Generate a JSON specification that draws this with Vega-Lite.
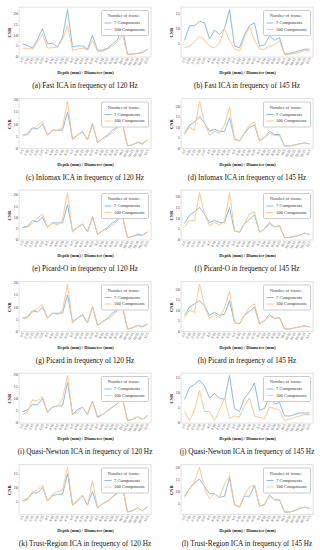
{
"$schema":"https://vega.github.io/schema/vega-lite/v6.json",
"padding":{"left":5,"top":6,"right":2,"bottom":0},
"background":"white",
"bounds":"flush",
"datasets":{"d":[
{"p":"a","x":"2/5","b":6,"o":4},{"p":"a","x":"2/10","b":5.2,"o":3.8},{"p":"a","x":"2/15","b":4,"o":3.5},{"p":"a","x":"2/20","b":8,"o":7},{"p":"a","x":"2/25","b":13,"o":10.5},{"p":"a","x":"4/5","b":6,"o":4},{"p":"a","x":"4/10","b":6.2,"o":4.2},{"p":"a","x":"4/15","b":4.5,"o":4.5},{"p":"a","x":"4/20","b":9,"o":8},{"p":"a","x":"4/25","b":22,"o":14.5},{"p":"a","x":"6/5","b":4.5,"o":3},{"p":"a","x":"6/10","b":5,"o":3.5},{"p":"a","x":"6/15","b":5,"o":4},{"p":"a","x":"6/20","b":3.5,"o":3},{"p":"a","x":"6/25","b":10,"o":7.5},{"p":"a","x":"8/5","b":3,"o":2.5},{"p":"a","x":"8/10","b":3,"o":2.5},{"p":"a","x":"8/15","b":4,"o":3.5},{"p":"a","x":"8/20","b":6,"o":5},{"p":"a","x":"8/25","b":8,"o":7},{"p":"a","x":"10/5","b":13,"o":10},{"p":"a","x":"10/10","b":1,"o":1},{"p":"a","x":"10/15","b":1.2,"o":1.2},{"p":"a","x":"10/20","b":1.5,"o":1.5},{"p":"a","x":"10/25","b":2,"o":1.8},{"p":"a","x":"12/5","b":3.5,"o":3.5},
{"p":"b","x":"2/5","b":6,"o":3.5},{"p":"b","x":"2/10","b":11,"o":4},{"p":"b","x":"2/15","b":11,"o":5.5},{"p":"b","x":"2/20","b":12.5,"o":7.5},{"p":"b","x":"2/25","b":12,"o":6},{"p":"b","x":"4/5","b":6.5,"o":4},{"p":"b","x":"4/10","b":9.5,"o":3.5},{"p":"b","x":"4/15","b":8,"o":5},{"p":"b","x":"4/20","b":10,"o":10},{"p":"b","x":"4/25","b":16.5,"o":6},{"p":"b","x":"6/5","b":4,"o":3},{"p":"b","x":"6/10","b":3.5,"o":2.5},{"p":"b","x":"6/15","b":8,"o":7},{"p":"b","x":"6/20","b":11,"o":10.5},{"p":"b","x":"6/25","b":12,"o":6},{"p":"b","x":"8/5","b":4,"o":3},{"p":"b","x":"8/10","b":4.5,"o":3},{"p":"b","x":"8/15","b":7.5,"o":4},{"p":"b","x":"8/20","b":6,"o":4.5},{"p":"b","x":"8/25","b":7,"o":6},{"p":"b","x":"10/5","b":1.5,"o":1.2},{"p":"b","x":"10/10","b":1.5,"o":1.3},{"p":"b","x":"10/15","b":2,"o":1.5},{"p":"b","x":"10/20","b":2.5,"o":2},{"p":"b","x":"10/25","b":3,"o":2.5},{"p":"b","x":"12/5","b":3,"o":2.5},
{"p":"c","x":"2/5","b":5.5,"o":5.5},{"p":"c","x":"2/10","b":6,"o":5.5},{"p":"c","x":"2/15","b":8.5,"o":8},{"p":"c","x":"2/20","b":8,"o":9.5},{"p":"c","x":"2/25","b":10,"o":11},{"p":"c","x":"4/5","b":5.5,"o":5.5},{"p":"c","x":"4/10","b":7.5,"o":7.5},{"p":"c","x":"4/15","b":7.5,"o":7.5},{"p":"c","x":"4/20","b":7.5,"o":8.5},{"p":"c","x":"4/25","b":15,"o":19.5},{"p":"c","x":"6/5","b":4,"o":3.5},{"p":"c","x":"6/10","b":5.5,"o":5.5},{"p":"c","x":"6/15","b":7,"o":7},{"p":"c","x":"6/20","b":3.5,"o":3.5},{"p":"c","x":"6/25","b":10,"o":10.5},{"p":"c","x":"8/5","b":2.5,"o":2.5},{"p":"c","x":"8/10","b":4,"o":4},{"p":"c","x":"8/15","b":5.5,"o":5},{"p":"c","x":"8/20","b":7.5,"o":6.5},{"p":"c","x":"8/25","b":9,"o":8.5},{"p":"c","x":"10/5","b":10,"o":10.5},{"p":"c","x":"10/10","b":1,"o":1},{"p":"c","x":"10/15","b":1.5,"o":1.5},{"p":"c","x":"10/20","b":2.5,"o":2.5},{"p":"c","x":"10/25","b":2,"o":1.8},{"p":"c","x":"12/5","b":3.5,"o":3.5},
{"p":"d","x":"2/5","b":7,"o":6.5},{"p":"d","x":"2/10","b":11,"o":10},{"p":"d","x":"2/15","b":12.5,"o":8.5},{"p":"d","x":"2/20","b":15,"o":22.5},{"p":"d","x":"2/25","b":12,"o":12},{"p":"d","x":"4/5","b":8,"o":6},{"p":"d","x":"4/10","b":9,"o":8},{"p":"d","x":"4/15","b":8,"o":7},{"p":"d","x":"4/20","b":8,"o":11},{"p":"d","x":"4/25","b":14.5,"o":19.5},{"p":"d","x":"6/5","b":4.5,"o":4},{"p":"d","x":"6/10","b":3.5,"o":3.5},{"p":"d","x":"6/15","b":7,"o":7.5},{"p":"d","x":"6/20","b":10,"o":11},{"p":"d","x":"6/25","b":11,"o":12.5},{"p":"d","x":"8/5","b":3.5,"o":3.5},{"p":"d","x":"8/10","b":5,"o":5},{"p":"d","x":"8/15","b":8,"o":7},{"p":"d","x":"8/20","b":6.5,"o":6},{"p":"d","x":"8/25","b":6.5,"o":6},{"p":"d","x":"10/5","b":1,"o":1},{"p":"d","x":"10/10","b":1,"o":1},{"p":"d","x":"10/15","b":1.5,"o":1.5},{"p":"d","x":"10/20","b":2,"o":2},{"p":"d","x":"10/25","b":2.5,"o":2.5},{"p":"d","x":"12/5","b":2,"o":2},
{"p":"e","x":"2/5","b":5.5,"o":5.5},{"p":"e","x":"2/10","b":6,"o":5.5},{"p":"e","x":"2/15","b":8.5,"o":7.5},{"p":"e","x":"2/20","b":8,"o":9.5},{"p":"e","x":"2/25","b":10,"o":11.5},{"p":"e","x":"4/5","b":5.5,"o":5.5},{"p":"e","x":"4/10","b":7.5,"o":7.5},{"p":"e","x":"4/15","b":7.5,"o":6.5},{"p":"e","x":"4/20","b":7.5,"o":9},{"p":"e","x":"4/25","b":15.5,"o":21},{"p":"e","x":"6/5","b":4,"o":3.5},{"p":"e","x":"6/10","b":5.5,"o":5.5},{"p":"e","x":"6/15","b":7,"o":7},{"p":"e","x":"6/20","b":3.5,"o":3.5},{"p":"e","x":"6/25","b":10,"o":10.5},{"p":"e","x":"8/5","b":2.5,"o":2.5},{"p":"e","x":"8/10","b":4,"o":4},{"p":"e","x":"8/15","b":5.5,"o":5},{"p":"e","x":"8/20","b":7.5,"o":6.5},{"p":"e","x":"8/25","b":9,"o":8.5},{"p":"e","x":"10/5","b":10,"o":10.5},{"p":"e","x":"10/10","b":1,"o":1},{"p":"e","x":"10/15","b":1.5,"o":1.5},{"p":"e","x":"10/20","b":2.5,"o":2},{"p":"e","x":"10/25","b":2,"o":2},{"p":"e","x":"12/5","b":3.5,"o":3.5},
{"p":"f","x":"2/5","b":7.5,"o":6},{"p":"f","x":"2/10","b":11.5,"o":9},{"p":"f","x":"2/15","b":13,"o":9},{"p":"f","x":"2/20","b":15,"o":22},{"p":"f","x":"2/25","b":12,"o":12},{"p":"f","x":"4/5","b":8,"o":6.5},{"p":"f","x":"4/10","b":9,"o":8},{"p":"f","x":"4/15","b":8,"o":7},{"p":"f","x":"4/20","b":8,"o":8.5},{"p":"f","x":"4/25","b":15,"o":22},{"p":"f","x":"6/5","b":4,"o":4},{"p":"f","x":"6/10","b":3.5,"o":3.5},{"p":"f","x":"6/15","b":7.5,"o":7.5},{"p":"f","x":"6/20","b":9.5,"o":12},{"p":"f","x":"6/25","b":11.5,"o":13},{"p":"f","x":"8/5","b":3.5,"o":3.5},{"p":"f","x":"8/10","b":5,"o":5},{"p":"f","x":"8/15","b":8,"o":7},{"p":"f","x":"8/20","b":6,"o":6},{"p":"f","x":"8/25","b":6.5,"o":6.5},{"p":"f","x":"10/5","b":1,"o":1},{"p":"f","x":"10/10","b":1,"o":1},{"p":"f","x":"10/15","b":1.5,"o":1.5},{"p":"f","x":"10/20","b":2,"o":2},{"p":"f","x":"10/25","b":3,"o":3},{"p":"f","x":"12/5","b":2.5,"o":2.5},
{"p":"g","x":"2/5","b":5.5,"o":5.5},{"p":"g","x":"2/10","b":6,"o":5.5},{"p":"g","x":"2/15","b":8.5,"o":8},{"p":"g","x":"2/20","b":8,"o":9.5},{"p":"g","x":"2/25","b":10,"o":11},{"p":"g","x":"4/5","b":5.5,"o":5.5},{"p":"g","x":"4/10","b":7.5,"o":7.5},{"p":"g","x":"4/15","b":7.5,"o":7},{"p":"g","x":"4/20","b":7.5,"o":8.5},{"p":"g","x":"4/25","b":15,"o":19.5},{"p":"g","x":"6/5","b":4,"o":3.5},{"p":"g","x":"6/10","b":5.5,"o":5.5},{"p":"g","x":"6/15","b":7,"o":6.5},{"p":"g","x":"6/20","b":3.5,"o":3.5},{"p":"g","x":"6/25","b":10,"o":10.5},{"p":"g","x":"8/5","b":2.5,"o":2.5},{"p":"g","x":"8/10","b":4,"o":4},{"p":"g","x":"8/15","b":5.5,"o":5},{"p":"g","x":"8/20","b":7.5,"o":6.5},{"p":"g","x":"8/25","b":9,"o":8.5},{"p":"g","x":"10/5","b":10,"o":10.5},{"p":"g","x":"10/10","b":1,"o":1},{"p":"g","x":"10/15","b":1.5,"o":1.5},{"p":"g","x":"10/20","b":2.5,"o":2.5},{"p":"g","x":"10/25","b":2,"o":1.8},{"p":"g","x":"12/5","b":3,"o":3},
{"p":"h","x":"2/5","b":7.5,"o":6.5},{"p":"h","x":"2/10","b":11.5,"o":10},{"p":"h","x":"2/15","b":13,"o":9},{"p":"h","x":"2/20","b":14.5,"o":22.5},{"p":"h","x":"2/25","b":12,"o":12},{"p":"h","x":"4/5","b":7.5,"o":6},{"p":"h","x":"4/10","b":9,"o":8},{"p":"h","x":"4/15","b":7.5,"o":6.5},{"p":"h","x":"4/20","b":8,"o":11},{"p":"h","x":"4/25","b":14.5,"o":19},{"p":"h","x":"6/5","b":4,"o":4},{"p":"h","x":"6/10","b":3.5,"o":3.5},{"p":"h","x":"6/15","b":7.5,"o":7.5},{"p":"h","x":"6/20","b":9.5,"o":11.5},{"p":"h","x":"6/25","b":11.5,"o":13},{"p":"h","x":"8/5","b":3.5,"o":3.5},{"p":"h","x":"8/10","b":5,"o":5},{"p":"h","x":"8/15","b":8,"o":7},{"p":"h","x":"8/20","b":6,"o":6},{"p":"h","x":"8/25","b":6.5,"o":6.5},{"p":"h","x":"10/5","b":1,"o":1},{"p":"h","x":"10/10","b":1,"o":1},{"p":"h","x":"10/15","b":1.5,"o":1.5},{"p":"h","x":"10/20","b":2,"o":2},{"p":"h","x":"10/25","b":2.5,"o":2.5},{"p":"h","x":"12/5","b":2,"o":2},
{"p":"i","x":"2/5","b":4.5,"o":3.5},{"p":"i","x":"2/10","b":5.5,"o":4.5},{"p":"i","x":"2/15","b":7.5,"o":9.5},{"p":"i","x":"2/20","b":7.5,"o":9},{"p":"i","x":"2/25","b":10,"o":11},{"p":"i","x":"4/5","b":4.5,"o":4},{"p":"i","x":"4/10","b":6.5,"o":6.5},{"p":"i","x":"4/15","b":7,"o":7},{"p":"i","x":"4/20","b":7,"o":10},{"p":"i","x":"4/25","b":16.5,"o":19.5},{"p":"i","x":"6/5","b":3.5,"o":3.5},{"p":"i","x":"6/10","b":5.5,"o":4.5},{"p":"i","x":"6/15","b":6.5,"o":6.5},{"p":"i","x":"6/20","b":3.5,"o":3.5},{"p":"i","x":"6/25","b":9,"o":9},{"p":"i","x":"8/5","b":2.5,"o":2},{"p":"i","x":"8/10","b":3.5,"o":3.5},{"p":"i","x":"8/15","b":5,"o":5},{"p":"i","x":"8/20","b":6.5,"o":6.5},{"p":"i","x":"8/25","b":8,"o":8},{"p":"i","x":"10/5","b":10,"o":10},{"p":"i","x":"10/10","b":1,"o":1},{"p":"i","x":"10/15","b":1.5,"o":1.5},{"p":"i","x":"10/20","b":2.5,"o":2.5},{"p":"i","x":"10/25","b":1.5,"o":1.5},{"p":"i","x":"12/5","b":3,"o":3},
{"p":"j","x":"2/5","b":7.5,"o":3.5},{"p":"j","x":"2/10","b":11.5,"o":0.5},{"p":"j","x":"2/15","b":12.5,"o":4},{"p":"j","x":"2/20","b":14,"o":10.5},{"p":"j","x":"2/25","b":12,"o":3.5},{"p":"j","x":"4/5","b":8,"o":3.5},{"p":"j","x":"4/10","b":9.5,"o":0.5},{"p":"j","x":"4/15","b":8,"o":4},{"p":"j","x":"4/20","b":7.5,"o":8},{"p":"j","x":"4/25","b":15.5,"o":1.2},{"p":"j","x":"6/5","b":4.5,"o":2},{"p":"j","x":"6/10","b":3.5,"o":1.8},{"p":"j","x":"6/15","b":8,"o":5.5},{"p":"j","x":"6/20","b":10,"o":8},{"p":"j","x":"6/25","b":13,"o":2},{"p":"j","x":"8/5","b":4,"o":1.5},{"p":"j","x":"8/10","b":4.5,"o":1.2},{"p":"j","x":"8/15","b":8.5,"o":5},{"p":"j","x":"8/20","b":6,"o":4.5},{"p":"j","x":"8/25","b":6.5,"o":4},{"p":"j","x":"10/5","b":2,"o":0.5},{"p":"j","x":"10/10","b":2,"o":1},{"p":"j","x":"10/15","b":2.5,"o":1.5},{"p":"j","x":"10/20","b":3,"o":2},{"p":"j","x":"10/25","b":3,"o":2.5},{"p":"j","x":"12/5","b":3,"o":2.5},
{"p":"k","x":"2/5","b":5,"o":5},{"p":"k","x":"2/10","b":6,"o":5.5},{"p":"k","x":"2/15","b":8,"o":8.5},{"p":"k","x":"2/20","b":8,"o":9},{"p":"k","x":"2/25","b":10,"o":11},{"p":"k","x":"4/5","b":5,"o":5},{"p":"k","x":"4/10","b":7,"o":7.5},{"p":"k","x":"4/15","b":7.5,"o":8.5},{"p":"k","x":"4/20","b":7.5,"o":9},{"p":"k","x":"4/25","b":15,"o":17.5},{"p":"k","x":"6/5","b":3.5,"o":3.5},{"p":"k","x":"6/10","b":5,"o":5.5},{"p":"k","x":"6/15","b":7,"o":7},{"p":"k","x":"6/20","b":3.5,"o":3.5},{"p":"k","x":"6/25","b":8.5,"o":12.5},{"p":"k","x":"8/5","b":2.5,"o":2.5},{"p":"k","x":"8/10","b":4,"o":4},{"p":"k","x":"8/15","b":5,"o":5},{"p":"k","x":"8/20","b":6.5,"o":6.5},{"p":"k","x":"8/25","b":8,"o":8.5},{"p":"k","x":"10/5","b":10,"o":10.5},{"p":"k","x":"10/10","b":1,"o":1},{"p":"k","x":"10/15","b":1.5,"o":1.5},{"p":"k","x":"10/20","b":2.5,"o":2.5},{"p":"k","x":"10/25","b":1.5,"o":1.5},{"p":"k","x":"12/5","b":3,"o":3},
{"p":"l","x":"2/5","b":8,"o":7.5},{"p":"l","x":"2/10","b":11,"o":11},{"p":"l","x":"2/15","b":13.5,"o":14},{"p":"l","x":"2/20","b":15,"o":20},{"p":"l","x":"2/25","b":12,"o":11},{"p":"l","x":"4/5","b":9,"o":7},{"p":"l","x":"4/10","b":9,"o":9},{"p":"l","x":"4/15","b":7.5,"o":7.5},{"p":"l","x":"4/20","b":8,"o":13},{"p":"l","x":"4/25","b":15.5,"o":16.5},{"p":"l","x":"6/5","b":4.5,"o":4.5},{"p":"l","x":"6/10","b":3.5,"o":3.5},{"p":"l","x":"6/15","b":8,"o":8.5},{"p":"l","x":"6/20","b":8,"o":12},{"p":"l","x":"6/25","b":12.5,"o":12.5},{"p":"l","x":"8/5","b":4,"o":4},{"p":"l","x":"8/10","b":4.5,"o":4.5},{"p":"l","x":"8/15","b":8.5,"o":8.5},{"p":"l","x":"8/20","b":6.5,"o":6.5},{"p":"l","x":"8/25","b":6.5,"o":6.5},{"p":"l","x":"10/5","b":1.5,"o":1.5},{"p":"l","x":"10/10","b":1.5,"o":1.5},{"p":"l","x":"10/15","b":2,"o":2},{"p":"l","x":"10/20","b":3,"o":3},{"p":"l","x":"10/25","b":3.5,"o":3.5},{"p":"l","x":"12/5","b":3,"o":3}
]},
"data":{"name":"d"},
"columns":2,
"spacing":{"column":30,"row":41.5},
"resolve":{"legend":{"color":"independent"},"scale":{"y":"independent","x":"independent"}},
"concat":[
{"width":132,"height":50,"title":"(a) Fast ICA in frequency of 120 Hz","transform":[{"filter":"datum.p=='a'"},{"fold":["b","o"],"as":["s","v"]}],"mark":"line","encoding":{"x":{"field":"x","type":"ordinal","sort":null,"scale":{"type":"point","padding":0.7},"title":"Depth (mm) / Diameter (mm)"},"y":{"field":"v","type":"quantitative","scale":{"zero":false,"nice":false,"padding":2.5},"title":"CNR","axis":{"values":[0,5,10,15,20]}},"color":{"field":"s","type":"nominal","sort":["b","o"],"legend":{"title":"Number of frame:","labelExpr":"datum.label=='b'?'7 Components':'100 Components'"}}}},
{"width":132,"height":50,"title":"(b) Fast ICA in frequency of 145 Hz","transform":[{"filter":"datum.p=='b'"},{"fold":["b","o"],"as":["s","v"]}],"mark":"line","encoding":{"x":{"field":"x","type":"ordinal","sort":null,"scale":{"type":"point","padding":0.7},"title":"Depth (mm) / Diameter (mm)"},"y":{"field":"v","type":"quantitative","scale":{"zero":false,"nice":false,"padding":2.5},"title":"CNR","axis":{"values":[0,5,10,15,20]}},"color":{"field":"s","type":"nominal","sort":["b","o"],"legend":{"title":"Number of frame:","labelExpr":"datum.label=='b'?'7 Components':'100 Components'"}}}},
{"width":132,"height":50,"title":"(c) Infomax ICA in frequency of 120 Hz","transform":[{"filter":"datum.p=='c'"},{"fold":["b","o"],"as":["s","v"]}],"mark":"line","encoding":{"x":{"field":"x","type":"ordinal","sort":null,"scale":{"type":"point","padding":0.7},"title":"Depth (mm) / Diameter (mm)"},"y":{"field":"v","type":"quantitative","scale":{"zero":false,"nice":false,"padding":2.5},"title":"CNR","axis":{"values":[0,5,10,15,20]}},"color":{"field":"s","type":"nominal","sort":["b","o"],"legend":{"title":"Number of frame:","labelExpr":"datum.label=='b'?'7 Components':'100 Components'"}}}},
{"width":132,"height":50,"title":"(d) Infomax ICA in frequency of 145 Hz","transform":[{"filter":"datum.p=='d'"},{"fold":["b","o"],"as":["s","v"]}],"mark":"line","encoding":{"x":{"field":"x","type":"ordinal","sort":null,"scale":{"type":"point","padding":0.7},"title":"Depth (mm) / Diameter (mm)"},"y":{"field":"v","type":"quantitative","scale":{"zero":false,"nice":false,"padding":2.5},"title":"CNR","axis":{"values":[0,5,10,15,20]}},"color":{"field":"s","type":"nominal","sort":["b","o"],"legend":{"title":"Number of frame:","labelExpr":"datum.label=='b'?'7 Components':'100 Components'"}}}},
{"width":132,"height":50,"title":"(e) Picard-O in frequency of 120 Hz","transform":[{"filter":"datum.p=='e'"},{"fold":["b","o"],"as":["s","v"]}],"mark":"line","encoding":{"x":{"field":"x","type":"ordinal","sort":null,"scale":{"type":"point","padding":0.7},"title":"Depth (mm) / Diameter (mm)"},"y":{"field":"v","type":"quantitative","scale":{"zero":false,"nice":false,"padding":2.5},"title":"CNR","axis":{"values":[0,5,10,15,20]}},"color":{"field":"s","type":"nominal","sort":["b","o"],"legend":{"title":"Number of frame:","labelExpr":"datum.label=='b'?'7 Components':'100 Components'"}}}},
{"width":132,"height":50,"title":"(f) Picard-O in frequency of 145 Hz","transform":[{"filter":"datum.p=='f'"},{"fold":["b","o"],"as":["s","v"]}],"mark":"line","encoding":{"x":{"field":"x","type":"ordinal","sort":null,"scale":{"type":"point","padding":0.7},"title":"Depth (mm) / Diameter (mm)"},"y":{"field":"v","type":"quantitative","scale":{"zero":false,"nice":false,"padding":2.5},"title":"CNR","axis":{"values":[0,5,10,15,20]}},"color":{"field":"s","type":"nominal","sort":["b","o"],"legend":{"title":"Number of frame:","labelExpr":"datum.label=='b'?'7 Components':'100 Components'"}}}},
{"width":132,"height":50,"title":"(g) Picard in frequency of 120 Hz","transform":[{"filter":"datum.p=='g'"},{"fold":["b","o"],"as":["s","v"]}],"mark":"line","encoding":{"x":{"field":"x","type":"ordinal","sort":null,"scale":{"type":"point","padding":0.7},"title":"Depth (mm) / Diameter (mm)"},"y":{"field":"v","type":"quantitative","scale":{"zero":false,"nice":false,"padding":2.5},"title":"CNR","axis":{"values":[0,5,10,15,20]}},"color":{"field":"s","type":"nominal","sort":["b","o"],"legend":{"title":"Number of frame:","labelExpr":"datum.label=='b'?'7 Components':'100 Components'"}}}},
{"width":132,"height":50,"title":"(h) Picard in frequency of 145 Hz","transform":[{"filter":"datum.p=='h'"},{"fold":["b","o"],"as":["s","v"]}],"mark":"line","encoding":{"x":{"field":"x","type":"ordinal","sort":null,"scale":{"type":"point","padding":0.7},"title":"Depth (mm) / Diameter (mm)"},"y":{"field":"v","type":"quantitative","scale":{"zero":false,"nice":false,"padding":2.5},"title":"CNR","axis":{"values":[0,5,10,15,20]}},"color":{"field":"s","type":"nominal","sort":["b","o"],"legend":{"title":"Number of frame:","labelExpr":"datum.label=='b'?'7 Components':'100 Components'"}}}},
{"width":132,"height":50,"title":"(i) Quasi-Newton ICA in frequency of 120 Hz","transform":[{"filter":"datum.p=='i'"},{"fold":["b","o"],"as":["s","v"]}],"mark":"line","encoding":{"x":{"field":"x","type":"ordinal","sort":null,"scale":{"type":"point","padding":0.7},"title":"Depth (mm) / Diameter (mm)"},"y":{"field":"v","type":"quantitative","scale":{"zero":false,"nice":false,"padding":2.5},"title":"CNR","axis":{"values":[0,5,10,15,20]}},"color":{"field":"s","type":"nominal","sort":["b","o"],"legend":{"title":"Number of frame:","labelExpr":"datum.label=='b'?'7 Components':'100 Components'"}}}},
{"width":132,"height":50,"title":"(j) Quasi-Newton ICA in frequency of 145 Hz","transform":[{"filter":"datum.p=='j'"},{"fold":["b","o"],"as":["s","v"]}],"mark":"line","encoding":{"x":{"field":"x","type":"ordinal","sort":null,"scale":{"type":"point","padding":0.7},"title":"Depth (mm) / Diameter (mm)"},"y":{"field":"v","type":"quantitative","scale":{"zero":false,"nice":false,"padding":2.5},"title":"CNR","axis":{"values":[0,5,10,15,20]}},"color":{"field":"s","type":"nominal","sort":["b","o"],"legend":{"title":"Number of frame:","labelExpr":"datum.label=='b'?'7 Components':'100 Components'"}}}},
{"width":132,"height":50,"title":"(k) Trust-Region ICA in frequency of 120 Hz","transform":[{"filter":"datum.p=='k'"},{"fold":["b","o"],"as":["s","v"]}],"mark":"line","encoding":{"x":{"field":"x","type":"ordinal","sort":null,"scale":{"type":"point","padding":0.7},"title":"Depth (mm) / Diameter (mm)"},"y":{"field":"v","type":"quantitative","scale":{"zero":false,"nice":false,"padding":2.5},"title":"CNR","axis":{"values":[0,5,10,15,20]}},"color":{"field":"s","type":"nominal","sort":["b","o"],"legend":{"title":"Number of frame:","labelExpr":"datum.label=='b'?'7 Components':'100 Components'"}}}},
{"width":132,"height":50,"title":"(l) Trust-Region ICA in frequency of 145 Hz","transform":[{"filter":"datum.p=='l'"},{"fold":["b","o"],"as":["s","v"]}],"mark":"line","encoding":{"x":{"field":"x","type":"ordinal","sort":null,"scale":{"type":"point","padding":0.7},"title":"Depth (mm) / Diameter (mm)"},"y":{"field":"v","type":"quantitative","scale":{"zero":false,"nice":false,"padding":2.5},"title":"CNR","axis":{"values":[0,5,10,15,20]}},"color":{"field":"s","type":"nominal","sort":["b","o"],"legend":{"title":"Number of frame:","labelExpr":"datum.label=='b'?'7 Components':'100 Components'"}}}}
],
"config":{
"view":{"stroke":"#cccccc","strokeWidth":0.6},
"range":{"category":["#82b3db","#f9c28c"]},
"line":{"strokeWidth":0.9},
"title":{"orient":"bottom","anchor":"middle","font":"Liberation Serif","fontSize":7.3,"fontWeight":"normal","color":"#111","offset":8},
"axis":{"domain":false,"grid":false,"ticks":false,"labelFont":"Liberation Serif","labelFontSize":4.5,"labelColor":"#444","labelPadding":1.5,"titleFont":"Liberation Serif","titleFontSize":4.5,"titleFontWeight":"bold","titleColor":"#222","titlePadding":2},
"axisX":{"labelAngle":-60,"labelFontSize":3.6,"labelOverlap":false,"labelPadding":1,"titlePadding":4},
"legend":{"orient":"top-right","offset":3,"padding":3,"strokeColor":"#cccccc","fillColor":"white","cornerRadius":1,"titleFont":"Liberation Serif","titleFontSize":4.5,"titleFontWeight":"normal","titleColor":"#444","titlePadding":1.5,"titleAlign":"center","titleAnchor":"middle","labelFont":"Liberation Serif","labelFontSize":4.5,"labelColor":"#333","symbolType":"stroke","symbolSize":50,"symbolStrokeWidth":0.9,"rowPadding":0.5,"labelOffset":2}
}
}
